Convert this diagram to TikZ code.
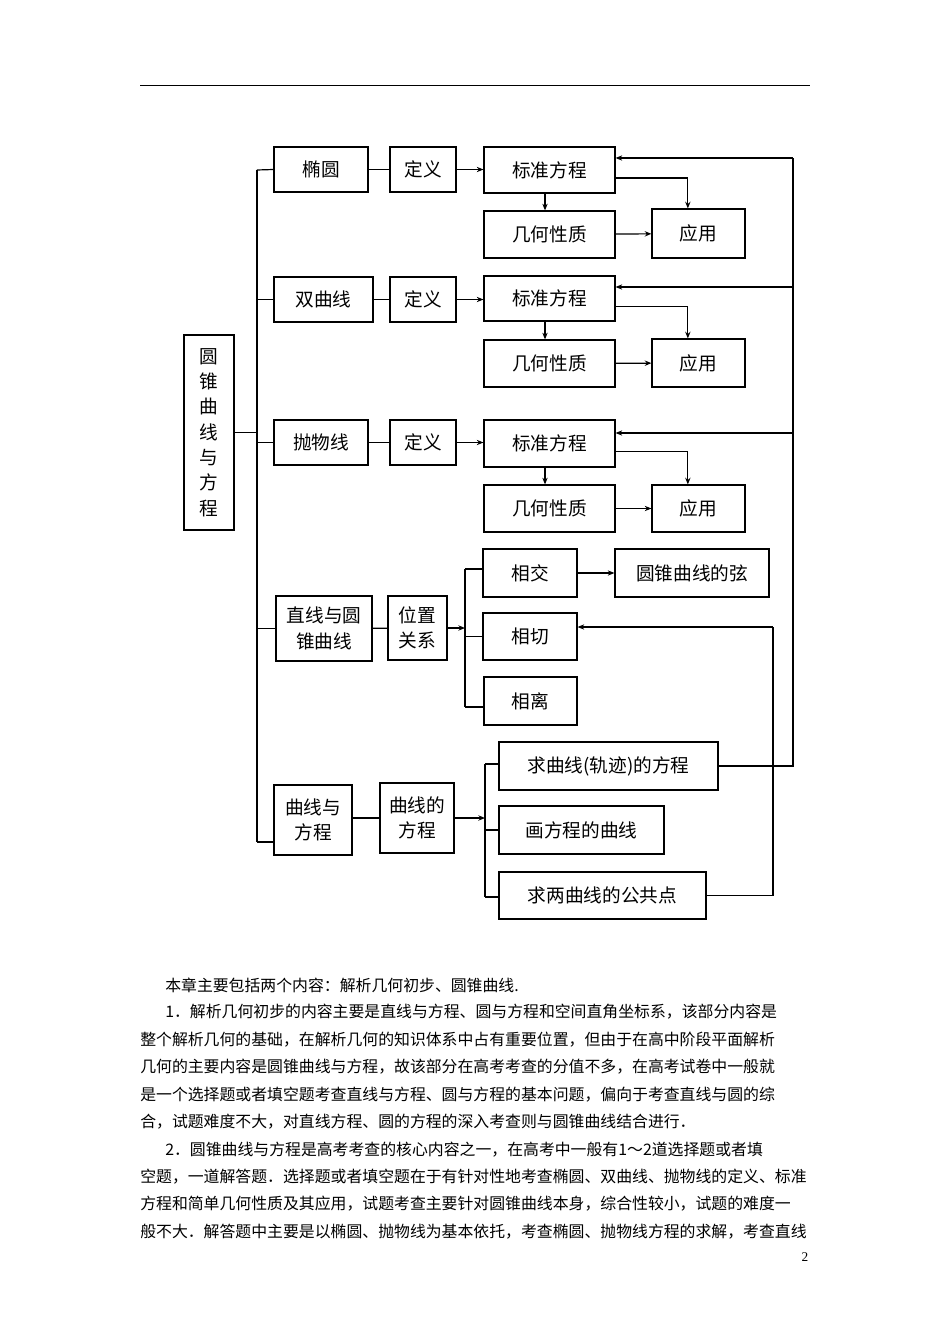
\documentclass[tikz,border=0pt]{standalone}
\usepackage{fontspec}
\setmainfont{Liberation Serif}
\newfontfamily\cjk{Noto Sans CJK SC}
\usetikzlibrary{arrows.meta}
\newcommand\bx[6]{\node[box,minimum width={(#3-#2)*0.75pt},minimum height={(#5-#4)*0.75pt}] (#1) at ({(#2+#3)/2},{(#4+#5)/2}) {#6};}
\begin{document}
\begin{tikzpicture}[x=0.75pt,y=-0.75pt,
  box/.style={draw,line width=0.9pt,inner sep=0pt,align=center,font=\cjk\fontsize{14}{19}\selectfont},
  ln/.style={line width=0.9pt},
  arr/.style={line width=0.9pt,-{Stealth[length=5pt,width=4pt]}},
  para/.style={anchor=west,inner sep=0pt,font=\cjk\fontsize{11.9}{14}\selectfont}]
\useasboundingbox[fill=white] (0,0) rectangle (950,1344);
\draw[line width=0.6pt] (140,85) -- (810,85);
% boxes
\bx{m}{184}{234}{335}{530}{圆\\锥\\曲\\线\\与\\方\\程}
\bx{e1}{274}{368}{147}{192}{椭圆}
\bx{d1}{390}{456}{147}{192}{定义}
\bx{s1}{484}{615}{147}{193}{标准方程}
\bx{g1}{484}{615}{211}{258}{几何性质}
\bx{a1}{652}{745}{209}{258}{应用}
\bx{e2}{274}{373}{277}{322}{双曲线}
\bx{d2}{390}{456}{277}{322}{定义}
\bx{s2}{484}{615}{276}{321}{标准方程}
\bx{g2}{484}{615}{340}{387}{几何性质}
\bx{a2}{652}{745}{339}{387}{应用}
\bx{e3}{274}{368}{420}{465}{抛物线}
\bx{d3}{390}{456}{420}{465}{定义}
\bx{s3}{484}{615}{420}{467}{标准方程}
\bx{g3}{484}{615}{485}{532}{几何性质}
\bx{a3}{652}{745}{485}{532}{应用}
\bx{z}{276}{372}{596}{661}{直线与圆\\锥曲线}
\bx{w}{388}{447}{596}{660}{位置\\关系}
\bx{x1}{483}{577}{549}{597}{相交}
\bx{x2}{483}{577}{613}{660}{相切}
\bx{x3}{484}{577}{677}{725}{相离}
\bx{xs}{615}{769}{549}{597}{圆锥曲线的弦}
\bx{c}{274}{352}{785}{855}{曲线与\\方程}
\bx{cf}{380}{454}{783}{853}{曲线的\\方程}
\bx{q1}{499}{718}{742}{790}{求曲线(轨迹)的方程}
\bx{q2}{499}{664}{806}{854}{画方程的曲线}
\bx{q3}{499}{706}{872}{919}{求两曲线的公共点}
% trunk
\coordinate (t1) at (257,170);
\coordinate (t5) at (257,842);
\draw[ln] (t1) -- (t5);
\draw[ln] (m.east) -- (m.east -| t1);
\draw[ln] (t1) -- (e1.west);
\draw[ln] (e2.west -| t1) -- (e2.west);
\draw[ln] (e3.west -| t1) -- (e3.west);
\draw[ln] (z.west -| t1) -- (z.west);
\draw[ln] (t5) -- (t5 -| c.west);
% conic rows
\foreach \i in {1,2,3}{
  \draw[ln] (e\i) -- (d\i);
  \draw[arr] (d\i) -- (d\i -| s\i.west);
  \draw[arr] (s\i.south -| 545,0) -- (g\i.north -| 545,0);
  \draw[arr] ([yshift=-6pt]s\i.east) -| ([xshift=-8pt]a\i.north);
  \draw[arr] (g\i) -- (a\i);
}
% line & conic
\coordinate (b1) at (465,569);
\coordinate (b3) at (465,707);
\draw[ln] (z) -- (w);
\draw[arr] (w.east) -- (w.east -| b1);
\draw[ln] (b1) -- (b3);
\draw[ln] (b1) -- (x1.west |- b1);
\draw[ln] (b1 |- x2.west) -- (x2.west);
\draw[ln] (b3) -- (x3.west |- b3);
\draw[arr] (x1) -- (xs);
% curves
\coordinate (k1) at (485,764);
\coordinate (k3) at (485,897);
\draw[ln] (c.east |- cf) -- (cf);
\draw[arr] (cf.east) -- (cf.east -| k1);
\draw[ln] (k1) -- (k3);
\draw[ln] (k1) -- (k1 -| q1.west);
\draw[ln] (k1 |- q2.west) -- (q2.west);
\draw[ln] (k3) -- (k3 -| q3.west);
% feedback
\coordinate (r1) at (793,158);
\coordinate (r2) at (793,287);
\coordinate (r3) at (793,433);
\draw[ln] (q1.east) -| (r1);
\draw[arr] (r1) -- (r1 -| s1.east);
\draw[arr] (r2) -- (r2 -| s2.east);
\draw[arr] (r3) -- (r3 -| s3.east);
\coordinate (h1) at (773,627);
\draw[ln] (q3.east) -| (h1);
\draw[arr] (h1) -- (h1 -| x2.east);
% text
\node[para] at (165,985) {本章主要包括两个内容：解析几何初步、圆锥曲线.};
\node[para] at (165,1012) {1．解析几何初步的内容主要是直线与方程、圆与方程和空间直角坐标系，该部分内容是};
\node[para] at (140,1040) {整个解析几何的基础，在解析几何的知识体系中占有重要位置，但由于在高中阶段平面解析};
\node[para] at (140,1067) {几何的主要内容是圆锥曲线与方程，故该部分在高考考查的分值不多，在高考试卷中一般就};
\node[para] at (140,1095) {是一个选择题或者填空题考查直线与方程、圆与方程的基本问题，偏向于考查直线与圆的综};
\node[para] at (140,1122) {合，试题难度不大，对直线方程、圆的方程的深入考查则与圆锥曲线结合进行．};
\node[para] at (165,1150) {2．圆锥曲线与方程是高考考查的核心内容之一，在高考中一般有1～2道选择题或者填};
\node[para] at (140,1177) {空题，一道解答题．选择题或者填空题在于有针对性地考查椭圆、双曲线、抛物线的定义、标准};
\node[para] at (140,1204) {方程和简单几何性质及其应用，试题考查主要针对圆锥曲线本身，综合性较小，试题的难度一};
\node[para] at (140,1232) {般不大．解答题中主要是以椭圆、抛物线为基本依托，考查椭圆、抛物线方程的求解，考查直线};
\node[font=\fontsize{10}{12}\selectfont,inner sep=0pt] (pg) at (805,1257) {2};
\end{tikzpicture}
\end{document}
